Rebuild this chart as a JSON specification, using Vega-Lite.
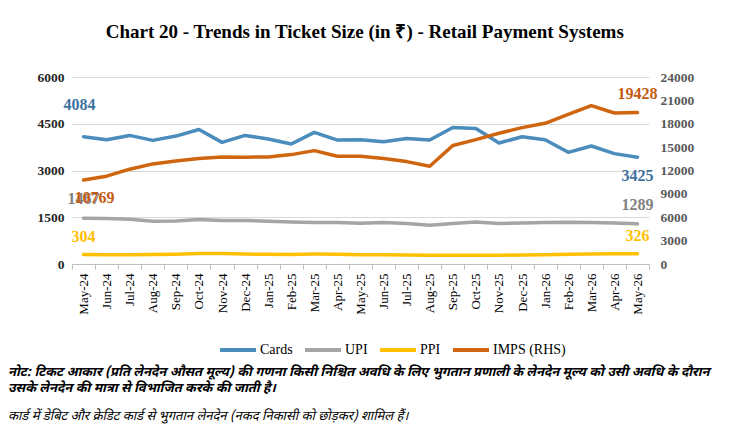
{
  "$schema": "https://vega.github.io/schema/vega-lite/v6.json",
  "padding": {"left": 8, "top": 23, "right": 5, "bottom": 5},
  "background": "white",
  "spacing": 7,
  "title": {
    "text": "Chart 20 - Trends in Ticket Size (in ₹) - Retail Payment Systems",
    "font": "Liberation Serif",
    "fontSize": 19,
    "fontWeight": "bold",
    "color": "#000000",
    "anchor": "middle",
    "dx": 6,
    "offset": 28
  },
  "config": {
    "view": {"stroke": null},
    "legend": {
      "direction": "horizontal",
      "symbolType": "stroke",
      "symbolSize": 1296,
      "symbolStrokeWidth": 4,
      "labelFont": "Liberation Serif",
      "labelFontSize": 14,
      "labelColor": "#000000",
      "labelOffset": 2,
      "columnPadding": 4
    }
  },
  "resolve": {"legend": {"color": "independent"}, "scale": {"color": "independent"}},
  "vconcat": [
    {
      "width": 577,
      "height": 187,
      "data": {
        "values": [
          {"month": "May-24", "Cards": 4084, "UPI": 1467, "PPI": 304, "IMPS (RHS)": 10769},
          {"month": "Jun-24", "Cards": 3989, "UPI": 1457, "PPI": 300, "IMPS (RHS)": 11273},
          {"month": "Jul-24", "Cards": 4126, "UPI": 1436, "PPI": 298, "IMPS (RHS)": 12170},
          {"month": "Aug-24", "Cards": 3966, "UPI": 1374, "PPI": 302, "IMPS (RHS)": 12848},
          {"month": "Sep-24", "Cards": 4104, "UPI": 1383, "PPI": 315, "IMPS (RHS)": 13232},
          {"month": "Oct-24", "Cards": 4317, "UPI": 1425, "PPI": 340, "IMPS (RHS)": 13527},
          {"month": "Nov-24", "Cards": 3903, "UPI": 1394, "PPI": 335, "IMPS (RHS)": 13745},
          {"month": "Dec-24", "Cards": 4126, "UPI": 1394, "PPI": 318, "IMPS (RHS)": 13707},
          {"month": "Jan-25", "Cards": 4008, "UPI": 1374, "PPI": 310, "IMPS (RHS)": 13745},
          {"month": "Feb-25", "Cards": 3849, "UPI": 1351, "PPI": 308, "IMPS (RHS)": 14040},
          {"month": "Mar-25", "Cards": 4222, "UPI": 1330, "PPI": 318, "IMPS (RHS)": 14552},
          {"month": "Apr-25", "Cards": 3977, "UPI": 1330, "PPI": 312, "IMPS (RHS)": 13835},
          {"month": "May-25", "Cards": 3989, "UPI": 1308, "PPI": 300, "IMPS (RHS)": 13835},
          {"month": "Jun-25", "Cards": 3925, "UPI": 1330, "PPI": 295, "IMPS (RHS)": 13527},
          {"month": "Jul-25", "Cards": 4030, "UPI": 1297, "PPI": 290, "IMPS (RHS)": 13143},
          {"month": "Aug-25", "Cards": 3977, "UPI": 1244, "PPI": 280, "IMPS (RHS)": 12554},
          {"month": "Sep-25", "Cards": 4381, "UPI": 1297, "PPI": 278, "IMPS (RHS)": 15200},
          {"month": "Oct-25", "Cards": 4349, "UPI": 1350, "PPI": 280, "IMPS (RHS)": 15962},
          {"month": "Nov-25", "Cards": 3881, "UPI": 1297, "PPI": 283, "IMPS (RHS)": 16781},
          {"month": "Dec-25", "Cards": 4084, "UPI": 1318, "PPI": 287, "IMPS (RHS)": 17499},
          {"month": "Jan-26", "Cards": 3989, "UPI": 1330, "PPI": 295, "IMPS (RHS)": 18062},
          {"month": "Feb-26", "Cards": 3583, "UPI": 1340, "PPI": 310, "IMPS (RHS)": 19215},
          {"month": "Mar-26", "Cards": 3785, "UPI": 1330, "PPI": 320, "IMPS (RHS)": 20317},
          {"month": "Apr-26", "Cards": 3542, "UPI": 1318, "PPI": 325, "IMPS (RHS)": 19381},
          {"month": "May-26", "Cards": 3425, "UPI": 1289, "PPI": 326, "IMPS (RHS)": 19428}
        ]
      },
      "transform": [
        {"fold": ["Cards", "UPI", "PPI", "IMPS (RHS)"], "as": ["series", "value"]}
      ],
      "encoding": {
        "x": {
          "field": "month",
          "type": "ordinal",
          "sort": null,
          "scale": {"type": "band", "paddingInner": 0, "paddingOuter": 0},
          "axis": {
            "title": null,
            "labelAngle": 270,
            "labelFont": "Liberation Serif",
            "labelFontSize": 13,
            "labelColor": "#000000",
            "labelPadding": 4,
            "tickBand": "extent",
            "tickSize": 5,
            "tickColor": "#BFBFBF",
            "domainColor": "#BFBFBF",
            "grid": false
          }
        }
      },
      "layer": [
        {
          "transform": [{"filter": "datum.series !== 'IMPS (RHS)'"}],
          "encoding": {
            "y": {
              "field": "value",
              "type": "quantitative",
              "scale": {"domain": [0, 6000], "nice": false},
              "axis": {
                "orient": "left",
                "title": null,
                "values": [0, 1500, 3000, 4500, 6000],
                "format": "d",
                "domain": false,
                "ticks": false,
                "grid": true,
                "gridColor": "#D9D9D9",
                "labelFont": "Liberation Serif",
                "labelFontSize": 13.5,
                "labelFontWeight": "bold",
                "labelColor": "#262626",
                "labelPadding": 8
              }
            }
          },
          "layer": [
            {
              "mark": {"type": "line", "strokeWidth": 3.5, "strokeCap": "round", "strokeJoin": "round"},
              "encoding": {
                "color": {
                  "field": "series",
                  "type": "nominal",
                  "title": null,
                  "scale": {
                    "domain": ["Cards", "UPI", "PPI", "IMPS (RHS)"],
                    "range": ["#4A8CBC", "#A5A5A5", "#FFC000", "#D0650F"]
                  },
                  "legend": {"orient": "none", "legendX": 146, "legendY": 253}
                }
              }
            },
            {
              "transform": [{"filter": "datum.series === 'Cards' && datum.month === 'May-24'"}],
              "mark": {"type": "text", "font": "Liberation Serif", "fontSize": 16, "fontWeight": "bold", "color": "#41729F", "dx": -4, "dy": -32},
              "encoding": {"text": {"field": "value", "type": "quantitative", "format": "d"}}
            },
            {
              "transform": [{"filter": "datum.series === 'Cards' && datum.month === 'May-26'"}],
              "mark": {"type": "text", "font": "Liberation Serif", "fontSize": 16, "fontWeight": "bold", "color": "#41729F", "dy": 19},
              "encoding": {"text": {"field": "value", "type": "quantitative", "format": "d"}}
            },
            {
              "transform": [{"filter": "datum.series === 'UPI' && (datum.month === 'May-24' || datum.month === 'May-26')"}],
              "mark": {"type": "text", "font": "Liberation Serif", "fontSize": 16, "fontWeight": "bold", "color": "#7F7F7F", "dy": -19},
              "encoding": {"text": {"field": "value", "type": "quantitative", "format": "d"}}
            },
            {
              "transform": [{"filter": "datum.series === 'PPI' && (datum.month === 'May-24' || datum.month === 'May-26')"}],
              "mark": {"type": "text", "font": "Liberation Serif", "fontSize": 16, "fontWeight": "bold", "color": "#FFC000", "dy": -18},
              "encoding": {"text": {"field": "value", "type": "quantitative", "format": "d"}}
            }
          ]
        },
        {
          "transform": [{"filter": "datum.series === 'IMPS (RHS)'"}],
          "encoding": {
            "y": {
              "field": "value",
              "type": "quantitative",
              "scale": {"domain": [0, 24000], "nice": false},
              "axis": {
                "orient": "right",
                "title": null,
                "values": [0, 3000, 6000, 9000, 12000, 15000, 18000, 21000, 24000],
                "format": "d",
                "domain": false,
                "ticks": false,
                "grid": false,
                "labelFont": "Liberation Serif",
                "labelFontSize": 13.5,
                "labelFontWeight": "bold",
                "labelColor": "#595959",
                "labelPadding": 11
              }
            }
          },
          "layer": [
            {
              "mark": {"type": "line", "strokeWidth": 3.5, "strokeCap": "round", "strokeJoin": "round"},
              "encoding": {
                "color": {"field": "series", "type": "nominal", "title": null}
              }
            },
            {
              "transform": [{"filter": "datum.month === 'May-24'"}],
              "mark": {"type": "text", "font": "Liberation Serif", "fontSize": 16, "fontWeight": "bold", "color": "#C55A11", "dx": 11, "dy": 18},
              "encoding": {"text": {"field": "value", "type": "quantitative", "format": "d"}}
            },
            {
              "transform": [{"filter": "datum.month === 'May-26'"}],
              "mark": {"type": "text", "font": "Liberation Serif", "fontSize": 16, "fontWeight": "bold", "color": "#C55A11", "dy": -19},
              "encoding": {"text": {"field": "value", "type": "quantitative", "format": "d"}}
            }
          ]
        }
      ],
      "resolve": {"scale": {"y": "independent"}}
    },
    {
      "width": 577,
      "height": 1,
      "title": {
        "text": [
          "नोट: टिकट आकार (प्रति लेनदेन औसत मूल्य) की गणना किसी निश्चित अवधि के लिए भुगतान प्रणाली के लेनदेन मूल्य को उसी अवधि के दौरान",
          "उसके लेनदेन की मात्रा से विभाजित करके की जाती है।"
        ],
        "subtitle": "कार्ड में डेबिट और क्रेडिट कार्ड से भुगतान लेनदेन (नकद निकासी को छोड़कर) शामिल हैं।",
        "orient": "top",
        "anchor": "start",
        "frame": "group",
        "dx": -64,
        "offset": 0,
        "font": "Noto Sans Devanagari, Noto Serif Devanagari, Lohit Devanagari, sans-serif",
        "fontSize": 13,
        "fontStyle": "italic",
        "fontWeight": "bold",
        "lineHeight": 16,
        "color": "#000000",
        "subtitleFont": "Noto Sans Devanagari, Noto Serif Devanagari, Lohit Devanagari, sans-serif",
        "subtitleFontSize": 13,
        "subtitleFontStyle": "italic",
        "subtitleFontWeight": "normal",
        "subtitleColor": "#000000",
        "subtitlePadding": 15
      },
      "data": {"values": [{"note": ""}]},
      "mark": {"type": "text"},
      "encoding": {"text": {"field": "note", "type": "nominal"}}
    }
  ]
}
